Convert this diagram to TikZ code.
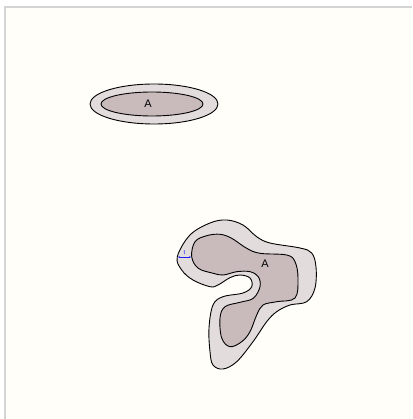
\documentclass[tikz,border=0pt]{standalone}
\usepackage{fontspec}
\setmainfont{Liberation Sans}
\usetikzlibrary{arrows.meta,calc}
\definecolor{bgcream}{RGB}{255,254,248}
\definecolor{framegray}{RGB}{212,212,212}
\definecolor{offsetfill}{RGB}{227,220,221}
\definecolor{shapefill}{RGB}{201,186,187}
\definecolor{dimblue}{RGB}{30,30,240}

\begin{document}
\begin{tikzpicture}[x=1pt,y=-1pt]
      \useasboundingbox (0,0) rectangle (412,419);
      \fill[white] (0,0) rectangle (412,419);
      \fill[bgcream] (5,7) rectangle (412,419);
      \draw[line width=1.6pt,framegray] (5,419) -- (5,7) -- (412,7);
      % ellipse with its offset
      \filldraw[fill=offsetfill,line width=0.9pt] (154,104) ellipse [x radius=64,y radius=20];
      \filldraw[fill=shapefill,line width=0.9pt] (152,104) ellipse [x radius=51,y radius=12];
      \node[font=\fontsize{11}{13}\selectfont] (labelA) at (148,104) {A};
      % free shape with its offset
      \filldraw[fill=offsetfill,line width=0.9pt] plot[smooth cycle,tension=0.6] coordinates {
        (177.3,256.7) (190,235) (210,223) (226.7,220) (243,225) (256.7,236.7)
        (270,243) (300,248) (311.7,253) (316,267) (315,288) (306.7,301.7)
        (290,305) (276.7,311.7) (266.7,321.7) (253,341.7) (236.7,361.7) (223,369)
        (213,365) (210,351.7) (209,328) (213,305) (223,296.7) (243,293)
        (251.7,286.7) (250,278) (240,275) (230,277.7) (218,285) (210,286.7)
        (193,280) (181.7,270)};
      \filldraw[fill=shapefill,line width=0.9pt] plot[smooth cycle,tension=0.6] coordinates {
        (191.7,256.7) (195,241.7) (206.7,235.7) (220,234.3) (231.7,238.3) (246.7,248.3)
        (260,253.3) (286.7,255) (295,261.7) (298,278) (295,298) (276.7,301.7)
        (263,305) (256.7,315) (250,331.7) (241.7,341.7) (230,346.7) (221.7,338)
        (220,318) (225,306.7) (240,302.3) (253.3,298.3) (260,286.7) (258.3,276.7)
        (250,271.7) (236.7,271.7) (223.3,275) (213.3,273.3) (198.3,268.3)};
      \node[font=\fontsize{11}{13}\selectfont] (labelB) at (265,264) {A};
      % thickness mark
      \coordinate (tout) at (177.5,257);
      \coordinate (tin) at (191.5,257);
      \draw[{Latex[length=2.2pt]}-{Latex[length=2.2pt]},dimblue,line width=0.7pt] (tout) -- (tin);
      \node[dimblue,font=\fontsize{6}{7}\selectfont,above=-1.5pt] (labelt) at ($(tout)!0.5!(tin)$) {t};
    \end{tikzpicture}
\end{document}
